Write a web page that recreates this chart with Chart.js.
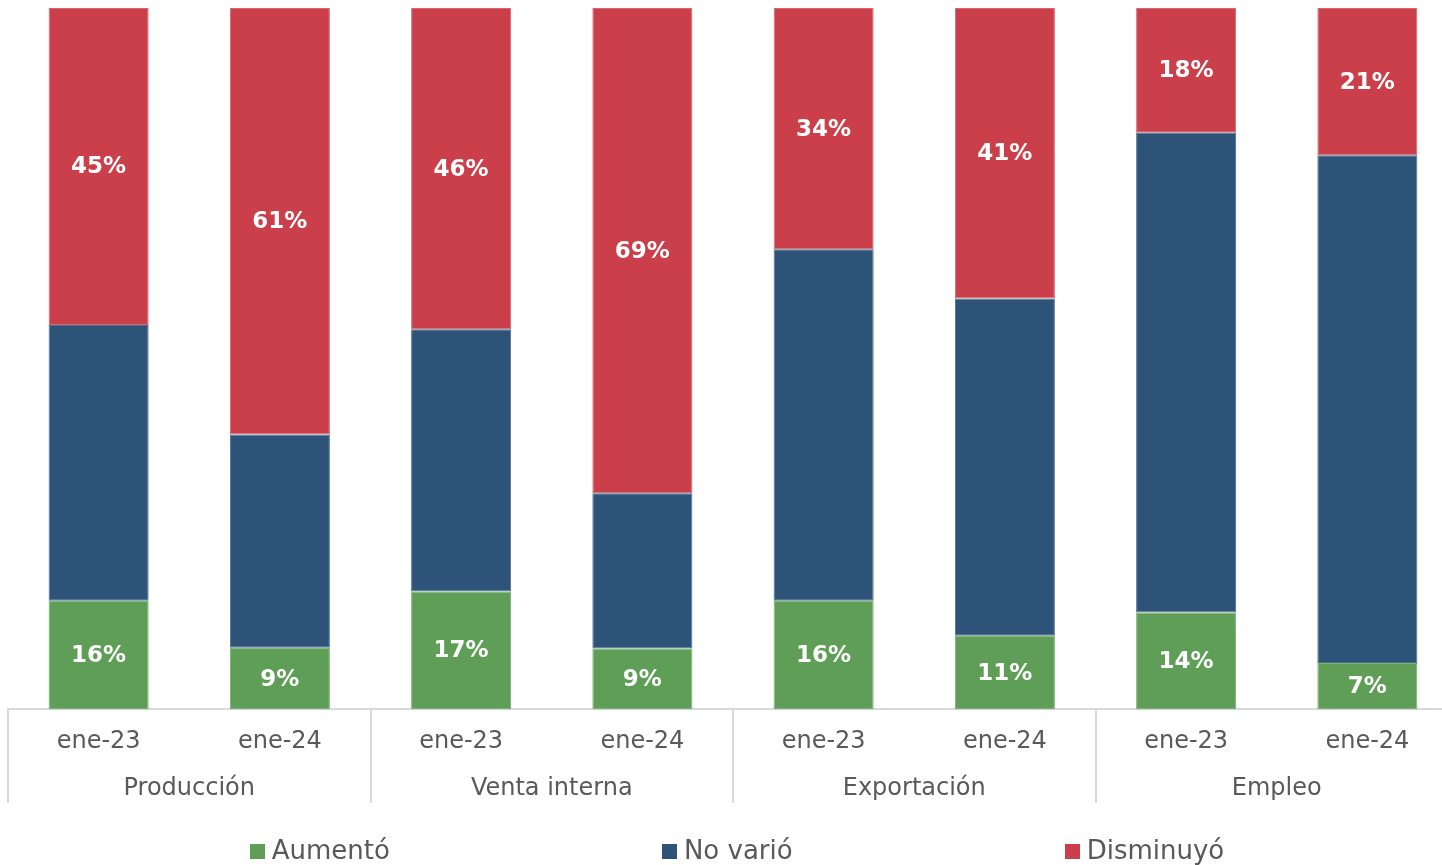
<!DOCTYPE html>
<html>
<head>
<meta charset="utf-8">
<script src="https://cdn.jsdelivr.net/npm/chart.js@4/dist/chart.umd.min.js"></script>
<style>
  html, body { margin: 0; padding: 0; background: #fff; overflow: hidden; width: 1442px; height: 865px; }
  #wrap { position: relative; width: 1460px; height: 865px; }
  #legend { position: absolute; left: 0; top: 835px; width: 1460px; display: flex; justify-content: center; gap: 272px; padding-left: 14px; box-sizing: border-box;
    font-family: "DejaVu Sans", Verdana, sans-serif; font-size: 26px; color: #595959; }
  #legend .item { display: flex; align-items: center; white-space: nowrap; }
  #legend .box { width: 15px; height: 15px; margin-right: 7px; margin-top: 2px; }
</style>
</head>
<body>
<div id="wrap">
  <canvas id="c" width="1460" height="865"></canvas>
  <div id="legend"></div>
</div>
<script>
const categories = ["ene-23", "ene-24", "ene-23", "ene-24", "ene-23", "ene-24", "ene-23", "ene-24"];
const groups = ["Producción", "Venta interna", "Exportación", "Empleo"];
const aumento = [15.5, 8.8, 16.8, 8.7, 15.5, 10.5, 13.8, 6.6];
const noVario = [39.3, 30.4, 37.4, 22.1, 50.1, 48.1, 68.4, 72.4];
const disminuyo = [45.2, 60.8, 45.8, 69.2, 34.4, 41.4, 17.8, 21.0];
const seriesNames = ["Aumentó", "No varió", "Disminuyó"];
const colors = ["#5E9E56", "#2D5478", "#CB3F4A"];
const borderColors = ["#7AB072", "#4A6D8E", "#D8656E"];
const showLabels = [true, false, true];

const FONT = '"DejaVu Sans", Verdana, sans-serif';

const groupSeparators = {
  id: 'groupSeparators',
  afterDraw(chart) {
    const x = chart.scales.x, x2 = chart.scales.x2;
    const ctx = chart.ctx;
    const xs = [x.left];
    for (let i = 2; i < categories.length; i += 2) {
      xs.push((x.getPixelForValue(i - 1) + x.getPixelForValue(i)) / 2);
    }
    xs.push(x.right);
    ctx.save();
    ctx.strokeStyle = '#D9D9D9';
    ctx.lineWidth = 2;
    xs.forEach(px => {
      ctx.beginPath();
      ctx.moveTo(Math.round(px), x.top);
      ctx.lineTo(Math.round(px), x2.bottom);
      ctx.stroke();
    });
    ctx.restore();
  }
};

const barLabels = {
  id: 'barLabels',
  afterDatasetsDraw(chart) {
    const ctx = chart.ctx;
    ctx.save();
    ctx.font = 'bold 23px ' + FONT;
    ctx.fillStyle = '#FFFFFF';
    ctx.textAlign = 'center';
    ctx.textBaseline = 'middle';
    chart.data.datasets.forEach((ds, di) => {
      if (!showLabels[di]) return;
      const meta = chart.getDatasetMeta(di);
      meta.data.forEach((bar, i) => {
        const v = ds.data[i];
        const cy = (bar.y + bar.base) / 2;
        ctx.fillText(Math.round(v) + '%', bar.x, cy + 1);
      });
    });
    ctx.restore();
  }
};

const data = {
  labels: categories,
  datasets: [aumento, noVario, disminuyo].map((arr, i) => ({
    label: seriesNames[i],
    data: arr,
    backgroundColor: colors[i],
    borderColor: borderColors[i],
    borderWidth: 1,
    borderSkipped: false,
    categoryPercentage: 1,
    barPercentage: 0.552
  }))
};

const chart = new Chart(document.getElementById('c'), {
  type: 'bar',
  data,
  options: {
    responsive: false,
    animation: false,
    devicePixelRatio: 1,
    layout: { padding: { top: 8, left: 8, right: 2, bottom: 62 } },
    plugins: { legend: { display: false }, tooltip: { enabled: false } },
    scales: {
      x: {
        stacked: true,
        grid: { display: false, drawTicks: false },
        border: { display: true, color: '#D9D9D9', width: 2 },
        ticks: { font: { family: FONT, size: 24 }, color: '#595959', padding: 18, maxRotation: 0, autoSkip: false }
      },
      x2: {
        type: 'category',
        labels: groups,
        position: 'bottom',
        offset: true,
        grid: { display: false, drawTicks: false },
        border: { display: false },
        ticks: { font: { family: FONT, size: 24 }, color: '#595959', padding: 0, maxRotation: 0, autoSkip: false }
      },
      y: {
        stacked: true,
        display: false,
        min: 0,
        max: 100
      }
    }
  },
  plugins: [groupSeparators, barLabels]
});

const legendEl = document.getElementById('legend');
chart.data.datasets.forEach(ds => {
  const item = document.createElement('div');
  item.className = 'item';
  const box = document.createElement('span');
  box.className = 'box';
  box.style.background = ds.backgroundColor;
  const txt = document.createElement('span');
  txt.textContent = ds.label;
  item.appendChild(box);
  item.appendChild(txt);
  legendEl.appendChild(item);
});
</script>
</body>
</html>
